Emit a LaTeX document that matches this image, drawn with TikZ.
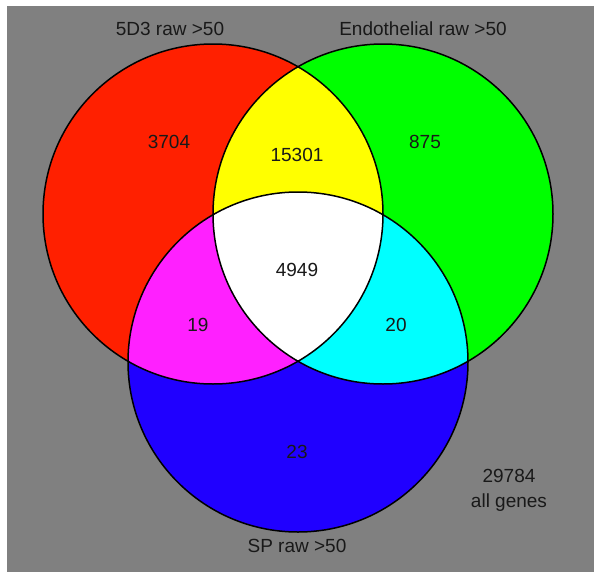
\documentclass[tikz,border=0pt]{standalone}
\usepackage{fontspec}
\setmainfont{Liberation Sans}
\definecolor{setred}{HTML}{FF2000}
\definecolor{setgreen}{HTML}{00FF00}
\definecolor{setblue}{HTML}{2000FF}
\definecolor{setyellow}{HTML}{FFFF00}
\definecolor{setmagenta}{HTML}{FF20FF}
\definecolor{setcyan}{HTML}{00FFFF}
\definecolor{backgray}{HTML}{808080}
\tikzset{count/.style={text=black!90,inner sep=0pt}}

\begin{document}
\begin{tikzpicture}[x=1pt,y=-1pt,font=\fontsize{19}{22}\selectfont]
\useasboundingbox (0,0) rectangle (600,576);
\fill[white] (0,0) rectangle (600,576);
\fill[backgray] (7,6) rectangle (594,572);
\coordinate (cred) at (213,214);
\coordinate (cgreen) at (383,214);
\coordinate (cblue) at (298,362);
\fill[setred] (cred) circle[radius=170];
\fill[setgreen] (cgreen) circle[radius=170];
\fill[setblue] (cblue) circle[radius=170];
\begin{scope}
\clip (cred) circle[radius=170];
\fill[setyellow] (cgreen) circle[radius=170];
\fill[setmagenta] (cblue) circle[radius=170];
\end{scope}
\begin{scope}
\clip (cgreen) circle[radius=170];
\fill[setcyan] (cblue) circle[radius=170];
\clip (cred) circle[radius=170];
\fill[white] (cblue) circle[radius=170];
\end{scope}
\draw[line width=1.5pt] (cred) circle[radius=170];
\draw[line width=1.5pt] (cgreen) circle[radius=170];
\draw[line width=1.5pt] (cblue) circle[radius=170];
\node[count] (lred) at (170,29) {5D3 raw >50};
\node[count] (lgreen) at (423,29) {Endothelial raw >50};
\node[count] (lblue) at (297,546) {SP raw >50};
\node[count] (nred) at (169,142) {3704};
\node[count] (nredgreen) at (297,155) {15301};
\node[count] (ngreen) at (425,142) {875};
\node[count] (nall) at (297,270) {4949};
\node[count] (nredblue) at (198,325) {19};
\node[count] (ngreenblue) at (396,325) {20};
\node[count] (nblue) at (297,452) {23};
\node[count] (ntotal) at (509,476) {29784};
\node[count] (ngenes) at (509,503) {all genes};
\end{tikzpicture}
\end{document}
